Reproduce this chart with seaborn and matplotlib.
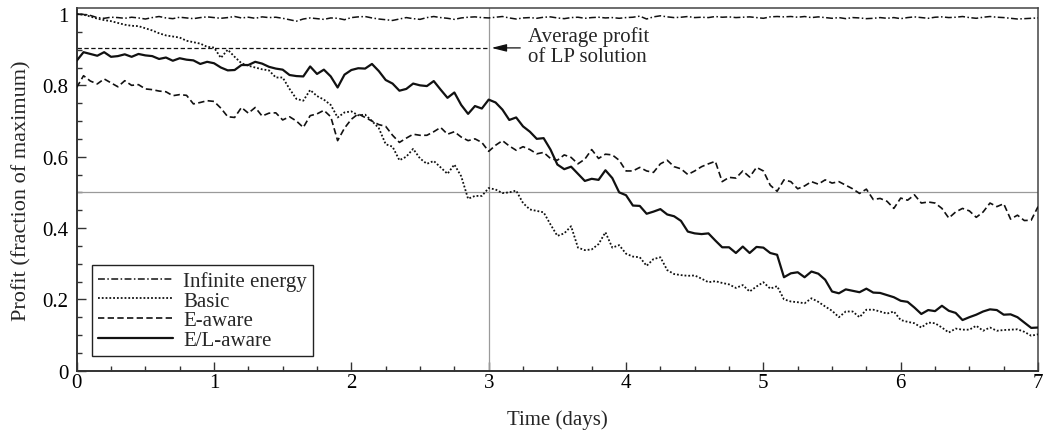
import numpy as np
import pandas as pd
import matplotlib
matplotlib.use("Agg")
import matplotlib.pyplot as plt
import seaborn as sns
from matplotlib.ticker import MultipleLocator

# ==============================
# DATA (read off the figure, sampled every 0.05 day)
# ==============================

time_days = np.round(np.arange(0, 141) * 0.05, 2)

infinite_energy = [
    1.000, 0.999, 0.996, 0.990, 0.988, 0.991, 0.990, 0.988, 0.991, 0.989,
    0.986, 0.990, 0.993, 0.989, 0.987, 0.991, 0.989, 0.987, 0.990, 0.992,
    0.990, 0.988, 0.990, 0.993, 0.989, 0.991, 0.988, 0.992, 0.990, 0.991,
    0.988, 0.984, 0.980, 0.986, 0.989, 0.987, 0.985, 0.989, 0.988, 0.984,
    0.990, 0.992, 0.993, 0.989, 0.986, 0.984, 0.982, 0.986, 0.990, 0.987,
    0.985, 0.990, 0.993, 0.990, 0.988, 0.985, 0.989, 0.991, 0.992, 0.990,
    0.989, 0.991, 0.993, 0.989, 0.986, 0.989, 0.990, 0.988, 0.991, 0.992,
    0.989, 0.987, 0.990, 0.991, 0.988, 0.990, 0.991, 0.989, 0.990, 0.988,
    0.990, 0.991, 0.994, 0.986, 0.992, 0.995, 0.992, 0.990, 0.991, 0.993,
    0.990, 0.991, 0.990, 0.993, 0.991, 0.992, 0.990, 0.991, 0.992, 0.990,
    0.988, 0.992, 0.993, 0.992, 0.993, 0.991, 0.993, 0.990, 0.992, 0.990,
    0.988, 0.990, 0.987, 0.990, 0.989, 0.987, 0.988, 0.990, 0.988, 0.990,
    0.987, 0.990, 0.992, 0.990, 0.988, 0.991, 0.992, 0.990, 0.991, 0.993,
    0.990, 0.988, 0.991, 0.993, 0.991, 0.990, 0.988, 0.986, 0.987, 0.988,
    0.989,
]

basic = [
    1.000, 0.998, 0.993, 0.987, 0.983, 0.980, 0.975, 0.970, 0.967, 0.966,
    0.960, 0.954, 0.946, 0.940, 0.937, 0.934, 0.925, 0.921, 0.917, 0.908,
    0.906, 0.877, 0.900, 0.880, 0.862, 0.855, 0.850, 0.845, 0.842, 0.822,
    0.822, 0.790, 0.762, 0.757, 0.787, 0.770, 0.760, 0.745, 0.710, 0.724,
    0.727, 0.716, 0.718, 0.700, 0.680, 0.635, 0.628, 0.590, 0.600, 0.622,
    0.595, 0.580, 0.588, 0.570, 0.552, 0.578, 0.545, 0.482, 0.490, 0.490,
    0.512, 0.508, 0.498, 0.500, 0.505, 0.470, 0.452, 0.448, 0.444, 0.410,
    0.378, 0.385, 0.405, 0.345, 0.338, 0.340, 0.355, 0.388, 0.345, 0.352,
    0.328, 0.320, 0.318, 0.294, 0.313, 0.318, 0.282, 0.271, 0.268, 0.266,
    0.267, 0.258, 0.248, 0.251, 0.246, 0.242, 0.232, 0.240, 0.222, 0.236,
    0.248, 0.230, 0.237, 0.200, 0.194, 0.192, 0.189, 0.203, 0.193, 0.180,
    0.168, 0.150, 0.166, 0.166, 0.150, 0.171, 0.171, 0.166, 0.160, 0.166,
    0.142, 0.137, 0.133, 0.121, 0.135, 0.133, 0.121, 0.107, 0.118, 0.115,
    0.115, 0.126, 0.112, 0.121, 0.112, 0.114, 0.115, 0.116, 0.109, 0.098,
    0.102,
]

e_aware = [
    0.794, 0.827, 0.812, 0.804, 0.818, 0.807, 0.796, 0.813, 0.800, 0.802,
    0.790, 0.788, 0.784, 0.782, 0.771, 0.774, 0.772, 0.748, 0.752, 0.757,
    0.755, 0.736, 0.712, 0.710, 0.738, 0.722, 0.738, 0.714, 0.722, 0.723,
    0.703, 0.712, 0.700, 0.682, 0.715, 0.720, 0.730, 0.712, 0.645, 0.680,
    0.705, 0.720, 0.710, 0.700, 0.690, 0.685, 0.660, 0.640, 0.652, 0.663,
    0.660, 0.660, 0.670, 0.682, 0.663, 0.670, 0.655, 0.645, 0.650, 0.640,
    0.615, 0.632, 0.645, 0.630, 0.618, 0.628, 0.620, 0.608, 0.612, 0.595,
    0.590, 0.605, 0.598, 0.580, 0.593, 0.620, 0.595, 0.607, 0.605, 0.590,
    0.560, 0.560, 0.570, 0.560, 0.556, 0.580, 0.590, 0.572, 0.566, 0.550,
    0.560, 0.572, 0.580, 0.587, 0.530, 0.542, 0.540, 0.560, 0.543, 0.570,
    0.560, 0.520, 0.503, 0.535, 0.530, 0.510, 0.518, 0.530, 0.523, 0.535,
    0.526, 0.530, 0.520, 0.510, 0.497, 0.509, 0.480, 0.483, 0.475, 0.455,
    0.484, 0.478, 0.493, 0.470, 0.473, 0.470, 0.455, 0.428, 0.445, 0.455,
    0.448, 0.430, 0.445, 0.470, 0.460, 0.468, 0.425, 0.436, 0.421, 0.422,
    0.460,
]

el_aware = [
    0.869, 0.893, 0.888, 0.883, 0.893, 0.880, 0.882, 0.887, 0.880, 0.888,
    0.884, 0.882, 0.874, 0.878, 0.869, 0.876, 0.872, 0.870, 0.860, 0.866,
    0.862, 0.850, 0.842, 0.843, 0.857, 0.857, 0.866, 0.861, 0.852, 0.847,
    0.844, 0.829, 0.826, 0.825, 0.853, 0.832, 0.844, 0.825, 0.794, 0.830,
    0.843, 0.848, 0.847, 0.860, 0.840, 0.815, 0.805, 0.785, 0.790, 0.805,
    0.800, 0.798, 0.812, 0.788, 0.765, 0.780, 0.745, 0.720, 0.742, 0.735,
    0.760, 0.752, 0.732, 0.703, 0.710, 0.685, 0.670, 0.650, 0.652, 0.620,
    0.578, 0.565, 0.572, 0.552, 0.532, 0.538, 0.535, 0.562, 0.540, 0.500,
    0.492, 0.463, 0.462, 0.440, 0.446, 0.453, 0.438, 0.433, 0.420, 0.390,
    0.385, 0.383, 0.385, 0.365, 0.346, 0.346, 0.330, 0.348, 0.330, 0.347,
    0.345, 0.330, 0.325, 0.262, 0.273, 0.276, 0.262, 0.278, 0.272, 0.255,
    0.222, 0.217, 0.228, 0.224, 0.220, 0.230, 0.219, 0.218, 0.212, 0.206,
    0.196, 0.193, 0.177, 0.159, 0.170, 0.167, 0.182, 0.168, 0.162, 0.142,
    0.150, 0.157, 0.166, 0.172, 0.170, 0.157, 0.158, 0.150, 0.135, 0.120,
    0.121,
]

series_names = ["Infinite energy", "Basic", "E-aware", "E/L-aware"]

lp_average = 0.905      # average profit of LP solution
lp_end_day = 3

# ==============================
# STYLE
# ==============================

sns.set_style("ticks")
plt.rcParams["font.family"] = ["Liberation Serif", "DejaVu Serif"]
plt.rcParams["font.size"] = 15

line_styles = {
    "Infinite energy": dict(linestyle=(0, (4.5, 1.6, 1.0, 1.6)), linewidth=1.1),
    "Basic": dict(linestyle=(0, (1.0, 1.1)), linewidth=1.3),
    "E-aware": dict(linestyle=(0, (3.8, 2.0)), linewidth=1.2),
    "E/L-aware": dict(linestyle="-", linewidth=1.6),
}

# ==============================
# PLOT
# ==============================

df = pd.DataFrame({
    "Time": time_days,
    "Infinite energy": infinite_energy,
    "Basic": basic,
    "E-aware": e_aware,
    "E/L-aware": el_aware,
})

fig, ax = plt.subplots(figsize=(10.46, 4.31), dpi=100)
fig.subplots_adjust(left=0.0733, right=0.9924, bottom=0.1376, top=0.9784)

# reference lines
ax.axvline(3, color="#9a9a9a", linewidth=0.9, zorder=1)
ax.axhline(0.5, color="#9a9a9a", linewidth=0.9, zorder=1)

for name in series_names:
    sns.lineplot(
        data=df,
        x="Time",
        y=name,
        ax=ax,
        color="#111111",
        label=name,
        errorbar=None,
        zorder=3,
        **line_styles[name]
    )

# LP average line
ax.plot([0, lp_end_day], [lp_average, lp_average],
        color="#111111", linestyle=(0, (3.5, 2.0)), linewidth=0.9, zorder=2)

ax.annotate(
    "",
    xy=(3.02, lp_average),
    xytext=(3.23, lp_average),
    arrowprops=dict(arrowstyle="-|>,head_length=0.6,head_width=0.15",
                    color="#111111", linewidth=0.9, shrinkA=0, shrinkB=0),
)
ax.text(3.285, lp_average + 0.005, "Average profit\nof LP solution",
        va="center", ha="left", fontsize=15, linespacing=1.1)

# axes
ax.set_xlim(0, 7)
ax.set_ylim(0, 1.016)
ax.xaxis.set_major_locator(MultipleLocator(1))
ax.xaxis.set_minor_locator(MultipleLocator(0.25))
ax.yaxis.set_minor_locator(MultipleLocator(0.05))
ax.set_yticks([0, 0.2, 0.4, 0.6, 0.8, 1.0])
ax.set_yticklabels(["0", "0.2", "0.4", "0.6", "0.8", "1"])

ax.tick_params(axis="both", which="both", direction="in",
               top=False, right=False, colors="#333333", labelcolor="black")
ax.tick_params(axis="x", which="major", length=6.5, width=1, pad=2, labelsize=15)
ax.tick_params(axis="x", which="minor", length=3.3, width=1)
ax.tick_params(axis="y", which="major", length=6.5, width=1, pad=6, labelsize=15)
ax.tick_params(axis="y", which="minor", length=3.3, width=1)

for side in ["left", "bottom"]:
    ax.spines[side].set_linewidth(1.4)
    ax.spines[side].set_color("#333333")
for side in ["top", "right"]:
    ax.spines[side].set_visible(True)
    ax.spines[side].set_linewidth(1.1)
    ax.spines[side].set_color("#444444")

ax.set_xlabel("Time (days)", fontsize=15, labelpad=12)
ax.set_ylabel("Profit (fraction of maximum)", fontsize=16, labelpad=8)

leg = ax.legend(
    loc="lower left",
    bbox_to_anchor=(0.0155, 0.04),
    borderaxespad=0,
    frameon=True,
    fancybox=False,
    handlelength=3.6,
    handletextpad=0.5,
    labelspacing=0.0,
    borderpad=0.3,
    fontsize=15,
)
leg.get_frame().set_edgecolor("#222222")
leg.get_frame().set_linewidth(1.0)
leg.get_frame().set_alpha(1)

fig.savefig("out.png", dpi=100)
